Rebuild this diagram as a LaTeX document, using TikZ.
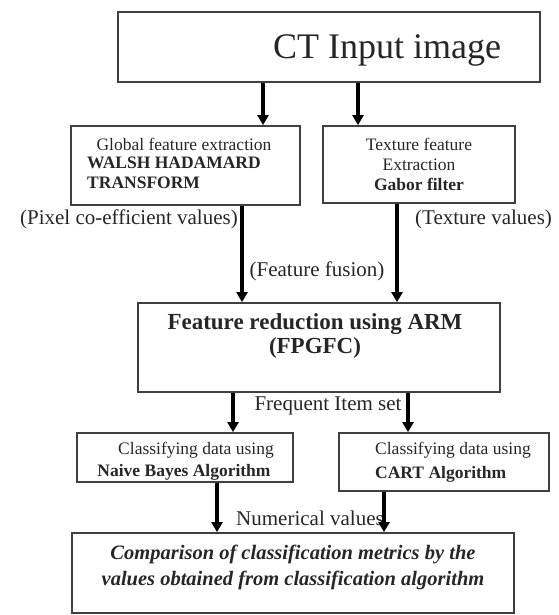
\documentclass[tikz,border=0pt]{standalone}
\usepackage{fontspec}
\setmainfont{Liberation Serif}
\usetikzlibrary{arrows.meta}

\tikzset{
    box/.style={draw=black!75, line width=1.8pt, rectangle, inner sep=0pt},
    flow/.style={line width=3.2pt, -{Triangle[length=10pt,width=11pt]}},
    txt/.style={inner sep=0pt, text=black!85, font=\fontsize{17.5}{20}\selectfont},
    note/.style={inner sep=0pt, text=black!85, font=\fontsize{21}{24}\selectfont},
}

\begin{document}
\begin{tikzpicture}[x=1pt, y=-1pt]
    \useasboundingbox (0,0) rectangle (558,615);

    % Draw boxes
    \node[box, minimum width=422pt, minimum height=70pt] (ct) at (329,47) {};
    \node[box, minimum width=229pt, minimum height=79pt] (glob) at (185.5,165.5) {};
    \node[box, minimum width=192pt, minimum height=77pt] (tex) at (419,164.5) {};
    \node[box, minimum width=362pt, minimum height=89pt] (red) at (319,347.5) {};
    \node[box, minimum width=216pt, minimum height=49pt] (nb) at (185,457.5) {};
    \node[box, minimum width=210pt, minimum height=58pt] (cart) at (444,462) {};
    \node[box, minimum width=442pt, minimum height=80pt] (comp) at (293,573) {};

    % Box texts
    \node[txt, font=\fontsize{36}{40}\selectfont] (cttxt) at (387,50) {CT Input image};
    \node[txt] (globa) at (184,144) {Global feature extraction};
    \node[txt, anchor=west, align=left, font=\fontsize{17.5}{20}\bfseries] (globb) at (87,173)
        {WALSH HADAMARD\\TRANSFORM};
    \node[txt, align=center] (textxt) at (419,164) {Texture feature\\Extraction\\\textbf{Gabor filter}};
    \node[txt, align=center, font=\fontsize{23}{24}\bfseries] (redtxt) at (315,336)
        {Feature reduction using ARM\\(FPGFC)};
    \node[txt] (nba) at (196,450) {Classifying data using};
    \node[txt, font=\fontsize{17.5}{20}\bfseries] (nbb) at (184,472) {Naive Bayes Algorithm};
    \node[txt, anchor=west, align=left, font=\fontsize{17.5}{24}\selectfont] (carttxt) at (375,462)
        {Classifying data using\\\textbf{CART Algorithm}};
    \node[txt, align=center, font=\fontsize{20.5}{26}\bfseries\itshape] (comptxt) at (293,567)
        {Comparison of classification metrics by the\\values obtained from classification algorithm};

    % Draw labels
    \node[note, anchor=east] (pix) at (238,219) {(Pixel co-efficient values)};
    \node[note, anchor=west] (texv) at (415,219) {(Texture values)};
    \node[note] (fus) at (317,271) {(Feature fusion)};
    \node[note] (freq) at (328,406) {Frequent Item set};
    \node[note] (num) at (310,518) {Numerical values};

    % Draw edges
    \draw[flow] (ct.south -| 263,0) -- (glob.north -| 263,0);
    \draw[flow] (ct.south -| 358,0) -- (tex.north -| 358,0);
    \draw[flow] (glob.south -| 242,0) -- (red.north -| 242,0);
    \draw[flow] (tex.south -| 397,0) -- (red.north -| 397,0);
    \draw[flow] (red.south -| 233,0) -- (nb.north -| 233,0);
    \draw[flow] (red.south -| 408,0) -- (cart.north -| 408,0);
    \draw[flow] (nb.south -| 217,0) -- (comp.north -| 217,0);
    \draw[flow] (cart.south -| 384,0) -- (comp.north -| 384,0);
\end{tikzpicture}
\end{document}
